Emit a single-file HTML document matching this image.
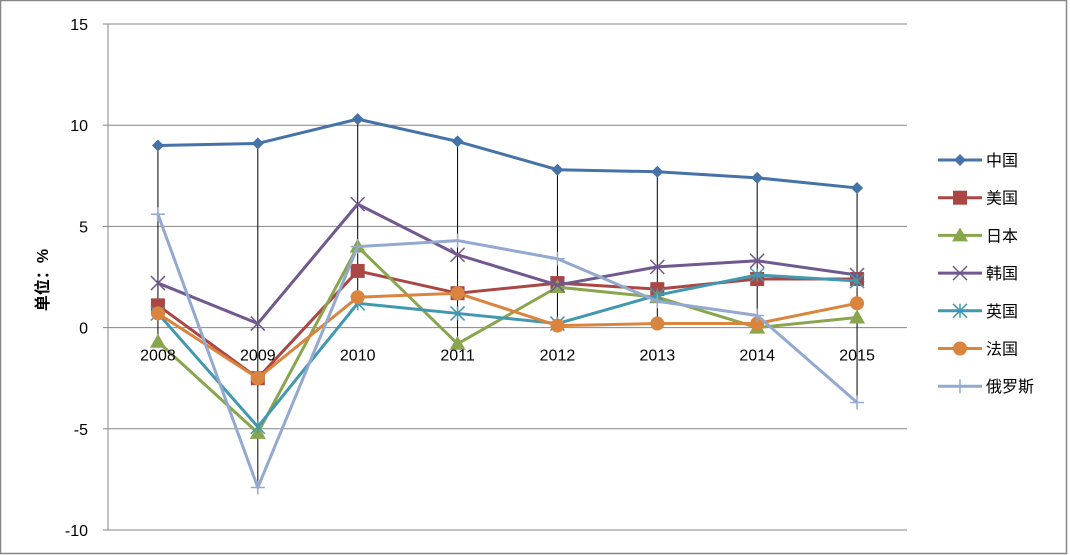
<!DOCTYPE html>
<html><head><meta charset="utf-8"><style>
html,body{margin:0;padding:0;background:#fff}
svg{display:block;font-family:"Liberation Sans","Noto Sans CJK SC",sans-serif}
</style></head><body>
<svg id="c" width="1070" height="555">
<rect x="0.5" y="0.5" width="1066" height="553" fill="#fff" stroke="#868686" stroke-width="1.5"/>
<g id="grid"></g><g id="hl"></g><g id="series"></g><g id="axes"></g><g id="legend"></g>
<text transform="translate(48,280) rotate(-90)" text-anchor="middle" font-size="16" font-weight="bold">单位：%</text>
</svg>
<script>
const years=["2008","2009","2010","2011","2012","2013","2014","2015"];
const yTicks=[15,10,5,0,-5,-10];
const names=["中国","美国","日本","韩国","英国","法国","俄罗斯"];
const china=[9.0,9.1,10.3,9.2,7.8,7.7,7.4,6.9];
const usa=[1.1,-2.5,2.8,1.7,2.2,1.9,2.4,2.4];
const japan=[-0.7,-5.2,4.0,-0.8,2.0,1.5,0.0,0.5];
const korea=[2.2,0.2,6.1,3.6,2.1,3.0,3.3,2.6];
const uk=[0.7,-4.9,1.2,0.7,0.2,1.6,2.6,2.3];
const france=[0.7,-2.5,1.5,1.7,0.1,0.2,0.2,1.2];
const russia=[5.6,-7.9,4.0,4.3,3.4,1.3,0.6,-3.7];
const colors=["#4572A7","#AA4643","#89A54E","#71588F","#4198AF","#DB843D","#93A9CF"];
const markers=["diamond","square","triangle","x","star","circle","plus"];
const data=[china,usa,japan,korea,uk,france,russia];
const NS="http://www.w3.org/2000/svg";
const L=108,R=907,T=24,B=530,ymax=15,ymin=-10;
const y=v=>T+(ymax-v)/(ymax-ymin)*(B-T);
const x=i=>L+(i+0.5)*(R-L)/years.length;
function mk(tag,attrs,parent){const e=document.createElementNS(NS,tag);for(const k in attrs)e.setAttribute(k,attrs[k]);parent.appendChild(e);return e;}
const g=document.getElementById('grid'),ax=document.getElementById('axes'),hl=document.getElementById('hl'),sg=document.getElementById('series'),lg=document.getElementById('legend');
yTicks.forEach(t=>{
 const l=mk('line',{x1:L,x2:R,y1:y(t),y2:y(t),stroke:'#868686','stroke-width':1},g);
 
 
 const tk=mk('line',{x1:L-5,x2:L,y1:y(t),y2:y(t),stroke:'#868686'},ax);
 
 
 const tx=mk('text',{x:L-20,y:y(t)+6,'text-anchor':'end','font-size':16},ax);
 tx.textContent=t;
 
 
});
const ya=mk('line',{x1:L,x2:L,y1:T,y2:B,stroke:'#868686'},ax);


years.forEach((yr,i)=>{
 const tx=mk('text',{x:x(i),y:y(0)+33,'text-anchor':'middle','font-size':16},ax);
 tx.textContent=yr;
 
 
 const vals=data.map(d=>d[i]);
 const h=mk('line',{x1:x(i),x2:x(i),y1:y(Math.max(...vals)),y2:y(Math.min(...vals)),stroke:'#000','stroke-width':1},hl);
 
 
});
function marker(type,cx,cy,c,p,s){
 s=s||1;let e;
 if(type==='diamond')e=mk('polygon',{points:`${cx},${cy-6*s} ${cx+6*s},${cy} ${cx},${cy+6*s} ${cx-6*s},${cy}`,fill:c},p);
 else if(type==='square')e=mk('rect',{x:cx-7*s,y:cy-7*s,width:14*s,height:14*s,fill:c},p);
 else if(type==='triangle')e=mk('polygon',{points:`${cx},${cy-8*s} ${cx+8*s},${cy+6*s} ${cx-8*s},${cy+6*s}`,fill:c},p);
 else if(type==='circle')e=mk('circle',{cx:cx,cy:cy,r:7*s,fill:c},p);
 else{
  let d='';const r=7*s;
  if(type==='x')d=`M${cx-r},${cy-r}L${cx+r},${cy+r}M${cx-r},${cy+r}L${cx+r},${cy-r}`;
  else if(type==='star')d=`M${cx-r},${cy-r}L${cx+r},${cy+r}M${cx-r},${cy+r}L${cx+r},${cy-r}M${cx},${cy-r}L${cx},${cy+r}`;
  else d=`M${cx-r},${cy}L${cx+r},${cy}M${cx},${cy-r}L${cx},${cy+r}`;
  e=mk('path',{d:d,stroke:c,'stroke-width':1.5,fill:'none'},p);
 }
 return e;
}
data.forEach((d,si)=>{
 const grp=mk('g',{},sg);
 
 
 const pl=mk('polyline',{points:d.map((v,i)=>x(i)+','+y(v)).join(' '),fill:'none',stroke:colors[si],'stroke-width':3,'stroke-linejoin':'round'},grp);
 
 
 d.forEach((v,i)=>{
  const m=marker(markers[si],x(i),y(v),colors[si],grp);
  
  
 });
 const ly=160+si*37.7;
 const lgI=mk('g',{},lg);
 
 
 mk('line',{x1:938,x2:982,y1:ly,y2:ly,stroke:colors[si],'stroke-width':3},lgI);
 marker(markers[si],960,ly,colors[si],lgI);
 const t=mk('text',{x:986,y:ly+6,'font-size':16},lgI);
 t.textContent=names[si];
});
</script>
</body></html>
